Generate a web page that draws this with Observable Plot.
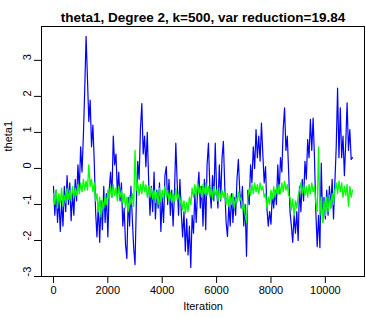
<!DOCTYPE html>
<html><head><meta charset="utf-8">
<script src="https://cdn.jsdelivr.net/npm/d3@7"></script>
<script src="https://cdn.jsdelivr.net/npm/@observablehq/plot@0.6"></script>
<style>body{margin:0;background:#fff} svg{display:block}</style>
</head><body><div id="chart"></div>
<script>
const title = "theta1, Degree 2, k=500, var reduction=19.84";
const xLabel = "Iteration";
const yLabel = "theta1";
const xTicks = [0, 2000, 4000, 6000, 8000, 10000];
const yTicks = [-3, -2, -1, 0, 1, 2, 3];
const step = 50; // iterations between read-off samples

// blue trace (plain sampler), every 50 iterations
const blue = [
-0.5,-1.3,-0.6,-1.5,-0.8,-1.75,-0.9,-1.6,-0.5,-1.2,
-0.2,-1.0,-0.4,-1.45,-0.7,-1.3,-0.3,-0.9,0.1,-0.6,
0.6,-0.1,0.9,2.2,3.67,2.5,1.3,1.9,0.6,1.2,
0.2,-1.2,-1.9,-1.0,-2.05,-0.9,-1.7,-0.5,-1.5,-0.7,
-1.9,-0.6,-0.1,-0.8,0.9,0.1,0.4,-0.7,-0.1,-0.9,
-0.4,-1.6,-1.1,-2.1,-2.5,-0.8,-1.6,-0.5,-1.4,-2.2,
-2.67,-0.9,0.2,-0.3,1.1,1.8,0.4,0.9,0.05,1.0,
-0.3,-1.3,-0.5,-1.2,-0.1,-1.4,-0.6,-1.1,-0.4,-1.75,
-0.8,-1.5,-0.2,0.05,-1.0,-0.3,-1.3,-0.6,-1.6,-0.7,
0.7,-0.4,-1.3,-0.3,-1.2,-1.9,-1.2,-2.3,-1.4,-2.4,
-1.6,-2.75,-1.3,-1.8,-0.7,-1.5,-0.6,-0.1,-1.1,-0.5,
-1.6,-0.3,-1.7,0.1,0.7,-0.5,-1.1,-0.2,-0.9,0.7,
-0.6,-1.1,0.1,-0.9,0.3,0.75,-0.5,-1.5,-1.89,-1.0,
-1.6,-0.7,-1.5,-0.8,-1.3,-0.3,0.25,-0.6,-1.1,-0.5,
-1.6,-1.0,-2.44,-0.6,-1.0,0.1,-0.4,0.6,0.0,1.08,
0.3,0.9,0.2,1.26,0.4,-0.4,0.05,-1.1,-1.6,-1.2,
-1.55,-0.7,-1.1,-0.6,-1.0,0.1,-0.7,0.3,-0.1,1.1,
1.68,0.5,0.9,-0.1,-1.2,-1.6,-2.05,-1.3,-1.8,-1.2,
-2.0,-0.5,-1.2,-0.3,-0.9,0.2,-0.3,0.8,0.3,1.36,
0.5,1.4,0.3,-1.2,-2.17,-1.3,-2.2,0.15,-1.5,-0.8,
-1.4,-0.6,-1.3,-0.5,-1.1,-0.3,-1.4,-0.4,0.6,2.23,
0.3,1.68,0.3,0.9,-0.2,0.7,1.82,0.5,1.08,0.25,
0.3
];

// green trace (variance-reduced), every 50 iterations
const green = [
-0.7,-1.0,-0.6,-1.1,-0.7,-0.95,-0.55,-1.05,-0.75,-0.95,
-0.55,-0.85,-0.6,-0.9,-0.5,-0.8,-0.55,-0.75,-0.45,-0.7,
-0.4,-0.65,-0.3,-0.6,-0.35,-0.6,0.1,-0.5,-0.3,-0.65,
-0.4,-0.9,-0.7,-1.2,-0.8,-1.35,-0.9,-1.1,-0.75,-1.0,
-0.6,-0.85,-0.5,-0.8,-0.45,-0.75,-0.55,-0.9,-0.5,-0.8,
-0.6,-0.95,-0.7,-1.1,-0.8,-1.2,-0.75,-1.0,-0.7,-1.05,
0.5,-0.6,-0.4,-0.75,-0.45,-0.7,-0.35,-0.65,-0.45,-0.8,
-0.5,-0.8,-0.55,-0.85,-0.6,-0.95,-0.65,-1.0,-0.55,-0.9,
-0.6,-0.85,-0.5,-0.8,-0.6,-0.9,-0.65,-0.95,-0.7,-0.9,
-0.55,-0.85,-0.7,-1.0,-0.8,-1.15,-0.9,-1.25,-0.95,-1.2,
-0.8,-1.0,-0.55,-0.8,-0.45,-0.75,-0.4,-0.7,-0.5,-0.8,
-0.45,-0.7,-0.4,-0.75,-0.5,-0.8,-0.55,-0.85,-0.5,-0.75,
-0.6,-0.9,-0.55,-0.85,-0.6,-0.8,-0.65,-1.0,-0.7,-1.05,
-0.75,-1.0,-0.7,-1.1,-0.8,-0.95,-0.65,-0.9,-0.8,-1.15,
-1.0,-1.3,-1.5,-0.8,-0.55,-0.75,-0.45,-0.7,-0.4,-0.65,
-0.45,-0.7,-0.4,-0.6,-0.5,-0.8,-0.7,-1.1,-0.8,-1.0,
-0.6,-0.85,-0.5,-0.8,-0.55,-0.75,-0.45,-0.7,-0.4,-0.65,
-0.35,-0.6,-0.45,-0.75,-0.8,-1.15,-0.85,-1.3,-0.9,-1.1,
-0.75,-0.6,-0.4,-0.7,-0.45,-0.75,-0.5,-0.8,-0.45,-0.7,
-0.4,-0.65,-0.5,-0.95,-1.2,0.6,-1.3,-0.8,-1.5,-0.9,
-1.3,-0.8,-1.2,-0.75,-1.1,-0.7,-1.0,-0.6,-0.4,-0.7,
-0.35,-0.65,-0.4,-0.8,-0.5,-0.75,-0.45,-1.05,-0.5,-0.8,
-0.6
];

const toRows = (vals) => vals.map((v, i) => ({iter: i * step, value: v}));

const font = "'Liberation Sans', Arial, Helvetica, sans-serif";
const chart = Plot.plot({
  width: 366,
  height: 317,
  marginLeft: 41,
  marginRight: 2,
  marginTop: 26,
  marginBottom: 41,
  x: {domain: [-440, 11440]},
  y: {domain: [-3.0, 3.94]},
  style: {fontFamily: font, fontSize: "11px", color: "#000", background: "#fff"},
  marks: [
    Plot.lineY(toRows(blue), {x: "iter", y: "value", stroke: "#0000ff", strokeWidth: 1.2}),
    Plot.lineY(toRows(green), {x: "iter", y: "value", stroke: "#00ff00", strokeWidth: 1.3}),
    Plot.frame({stroke: "#000", strokeWidth: 1}),
    Plot.axisX({ticks: xTicks, tickSize: 7, tickPadding: 3, fontSize: 11, tickFormat: d => String(d), label: null}),
    Plot.axisY({ticks: yTicks, tickSize: 7, tickFormat: () => "", label: null}),
    Plot.text(yTicks, {y: d => d, text: d => String(d), frameAnchor: "left", dx: -14, rotate: -90, fontSize: 11}),
    Plot.text([title], {frameAnchor: "top", dy: -14, fontWeight: "bold", fontSize: 13.5}),
    Plot.text([xLabel], {frameAnchor: "bottom", dy: 33, fontSize: 11}),
    Plot.text([yLabel], {frameAnchor: "left", dx: -33, rotate: -90, fontSize: 11})
  ]
});
document.getElementById("chart").appendChild(chart);
</script>
</body></html>
